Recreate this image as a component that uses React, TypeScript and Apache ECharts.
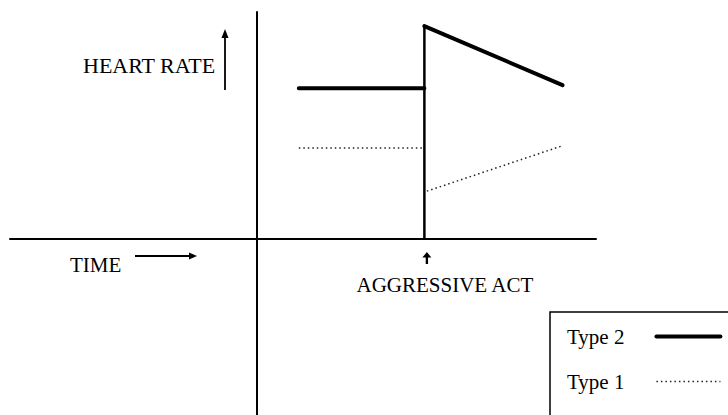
import React, { useEffect, useRef } from "react";
import * as echarts from "echarts";

// ---- data ----
const xRange: [number, number] = [-5.9, 8.1];
const yRange: [number, number] = [-77.5, 100];
const seriesNames = ["Type 2", "Type 1"];
// each series is a list of segments; segments are drawn unconnected
const type2Segments: [number, number][][] = [
  [[1, 66.4], [4, 66.4]],
  [[4, 93.8], [7.3, 67.8]],
];
const type1Segments: [number, number][][] = [
  [[1, 40.1], [4, 40.1]],
  [[4.06, 21.1], [7.3, 41.1]],
];
const actX = 4;
const actPeak = 93.8;
const yLabel = "HEART RATE";
const xLabel = "TIME";
const actLabel = "AGGRESSIVE ACT";

const FONT = '"Liberation Serif", "Times New Roman", serif';
const DOT: number[] = [1.5, 3];

function joinSegments(segs: [number, number][][]): any[] {
  const out: any[] = [];
  segs.forEach((s, i) => {
    if (i > 0) out.push([s[0][0], "-"]);
    s.forEach((p) => out.push(p));
  });
  return out;
}

function txt(text: string, x: number, y: number, size = 21) {
  return {
    type: "text",
    x,
    y,
    style: {
      text,
      fill: "#000",
      fontSize: size,
      fontFamily: FONT,
      align: "left",
      verticalAlign: "middle",
      textAlign: "left",
      textVerticalAlign: "middle",
    },
  };
}

const hiddenSymbol = { color: "rgba(0,0,0,0)", borderWidth: 0, opacity: 0 };

export default function App() {
  const ref = useRef<HTMLDivElement>(null);
  useEffect(() => {
    if (!ref.current) return;
    const chart = echarts.init(ref.current, null, { renderer: "svg" });
    const axisCommon = {
      type: "value",
      axisLine: { show: true, onZero: true, lineStyle: { color: "#000", width: 2 } },
      axisTick: { show: false },
      axisLabel: { show: false },
      splitLine: { show: false },
    };
    chart.setOption({
      animation: false,
      backgroundColor: "#fff",
      grid: { left: 10, right: 132, top: 12, bottom: 0, containLabel: false },
      xAxis: { ...axisCommon, min: xRange[0], max: xRange[1] },
      yAxis: { ...axisCommon, min: yRange[0], max: yRange[1] },
      legend: {
        orient: "vertical",
        align: "right",
        left: 567,
        top: 326,
        height: 120,
        padding: 0,
        itemWidth: 64,
        itemHeight: 24,
        itemGap: 24,
        selectedMode: false,
        textStyle: {
          fontFamily: FONT,
          fontSize: 21,
          color: "#000",
          padding: [0, 27, 0, 0],
        },
        data: [
          {
            name: seriesNames[0],
            itemStyle: hiddenSymbol,
            lineStyle: { width: 4, color: "#000", type: "solid", cap: "round" },
          },
          {
            name: seriesNames[1],
            itemStyle: hiddenSymbol,
            lineStyle: { width: 1.5, color: "#222", type: DOT },
          },
        ],
      },
      series: [
        {
          name: seriesNames[0],
          type: "line",
          data: joinSegments(type2Segments),
          showSymbol: false,
          symbol: "none",
          connectNulls: false,
          lineStyle: { color: "#000", width: 4, cap: "round", join: "round" },
          itemStyle: { color: "#000" },
          z: 3,
        },
        {
          name: seriesNames[1],
          type: "line",
          data: joinSegments(type1Segments),
          showSymbol: false,
          symbol: "none",
          connectNulls: false,
          lineStyle: { color: "#222", width: 1.5, type: DOT },
          itemStyle: { color: "#222" },
          z: 2,
        },
        {
          name: "act",
          type: "line",
          data: [
            [actX, 0],
            [actX, actPeak],
          ],
          showSymbol: false,
          symbol: "none",
          lineStyle: { color: "#000", width: 2.5 },
          itemStyle: { color: "#000" },
          z: 4,
          markPoint: {
            symbol: "path://M5,0 L10,6 L6.3,6 L6.3,13 L3.7,13 L3.7,6 L0,6 Z",
            symbolSize: [9, 12],
            symbolOffset: [2.5, 19],
            itemStyle: { color: "#000" },
            label: {
              show: true,
              position: "bottom",
              distance: 10,
              offset: [18, 0],
              formatter: actLabel,
              color: "#000",
              fontSize: 21,
              fontFamily: FONT,
            },
            data: [{ coord: [actX, 0] }],
          },
        },
      ],
      graphic: [
        txt(yLabel, 83, 65, 22),
        {
          type: "line",
          shape: { x1: 225, y1: 90, x2: 225, y2: 36 },
          style: { stroke: "#000", lineWidth: 1.8 },
        },
        {
          type: "polygon",
          shape: { points: [[225, 29], [221.5, 38], [228.5, 38]] },
          style: { fill: "#000" },
        },
        txt(xLabel, 70, 265),
        {
          type: "line",
          shape: { x1: 135, y1: 256, x2: 190, y2: 256 },
          style: { stroke: "#000", lineWidth: 1.8 },
        },
        {
          type: "polygon",
          shape: { points: [[197, 256], [189, 252.5], [189, 259.5]] },
          style: { fill: "#000" },
        },
        {
          type: "rect",
          shape: { x: 550, y: 312, width: 300, height: 200 },
          style: { fill: "none", stroke: "#000", lineWidth: 1.5 },
          z: -1,
        },
      ],
    });
    return () => chart.dispose();
  }, []);
  return (
    <div
      ref={ref}
      style={{ position: "absolute", left: 0, top: 0, width: 728, height: 415 }}
    />
  );
}
